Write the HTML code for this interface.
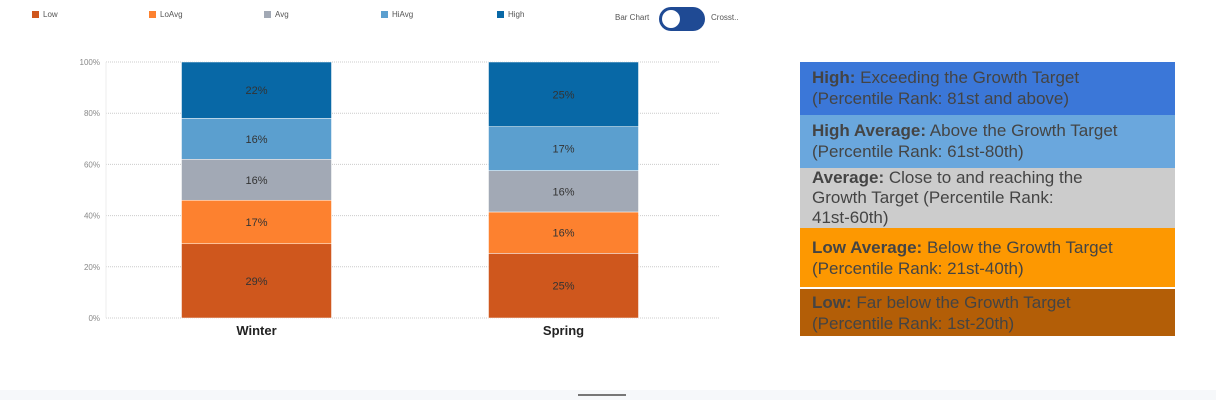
<!DOCTYPE html>
<html><head><meta charset="utf-8">
<style>
body{margin:0;width:1216px;height:400px;overflow:hidden;background:#fff;font-family:"Liberation Sans",sans-serif;position:relative}
.leg{position:absolute;top:10px;font-size:8px;color:#555;display:flex;align-items:center}
.leg i{display:inline-block;width:7px;height:7px;margin-right:4px}
.box{position:absolute;left:800px;width:363px;padding-left:12px;font-size:17px;color:#444;line-height:21px;box-sizing:content-box}
.box b{font-weight:bold}
</style></head><body>
<div class="leg" style="left:32px"><i style="background:#cf571d"></i>Low</div>
<div class="leg" style="left:149px"><i style="background:#fd812f"></i>LoAvg</div>
<div class="leg" style="left:264px"><i style="background:#a2a9b5"></i>Avg</div>
<div class="leg" style="left:381px"><i style="background:#5b9fcf"></i>HiAvg</div>
<div class="leg" style="left:497px"><i style="background:#0868a6"></i>High</div>
<div class="leg" style="left:615px;top:13px">Bar Chart</div>
<div style="position:absolute;left:659px;top:7px;width:46px;height:24px;border-radius:12px;background:#1f4a94"><div style="position:absolute;left:2px;top:2px;width:18px;height:18px;border-radius:50%;background:#fff;border:1px solid #1f4a94"></div></div>
<div class="leg" style="left:711px;top:13px">Crosst..</div>

<svg id="chart" width="780" height="360" style="position:absolute;left:0;top:0"></svg>

<div class="box" style="top:62px;height:53px;background:#3b77d8;padding-top:5px;height:48px"><b>High:</b> Exceeding the Growth Target<br>(Percentile Rank: 81st and above)</div>
<div class="box" style="top:115px;background:#6aa7dd;padding-top:5px;height:48px"><b>High Average:</b> Above the Growth Target<br>(Percentile Rank: 61st-80th)</div>
<div class="box" style="top:168px;background:#cccccc;padding-top:0;height:60px;line-height:20px"><b>Average:</b> Close to and reaching the<br>Growth Target (Percentile Rank:<br>41st-60th)</div>
<div class="box" style="top:228px;background:#fd9801;padding-top:9px;height:50px"><b>Low Average:</b> Below the Growth Target<br>(Percentile Rank: 21st-40th)</div>
<div class="box" style="top:289px;background:#b35e07;padding-top:3px;height:44px"><b>Low:</b> Far below the Growth Target<br>(Percentile Rank: 1st-20th)</div>

<div style="position:absolute;left:0;top:390px;width:1216px;height:10px;background:#f6f8fa"></div>
<div style="position:absolute;left:578px;top:394px;width:48px;height:2px;background:#777"></div>

<script>
const categories=["Winter","Spring"];
const seriesNames=["Low","LoAvg","Avg","HiAvg","High"];
const lowVals=[29,25];
const loAvgVals=[17,16];
const avgVals=[16,16];
const hiAvgVals=[16,17];
const highVals=[22,25];
const yTicks=[0,20,40,60,80,100];
const colors=["#cf571d","#fd812f","#a2a9b5","#5b9fcf","#0868a6"];
const series=[lowVals,loAvgVals,avgVals,hiAvgVals,highVals];
const svg=document.getElementById('chart');
const NS='http://www.w3.org/2000/svg';
const x0=106,x1=720,yTop=62,yBot=318,barW=150;
const y=v=>yBot-(v/100)*(yBot-yTop);
const xc=i=>x0+(x1-x0)*(i+0.5)/categories.length-3;
function mk(t,a){const e=document.createElementNS(NS,t);for(const k in a)e.setAttribute(k,a[k]);svg.appendChild(e);return e;}
yTicks.forEach(t=>{
 const l=mk('line',{x1:x0,x2:x1,y1:y(t),y2:y(t),stroke:'#ccc','stroke-dasharray':'1,1','stroke-width':1});
 
 
 const tx=mk('text',{x:100,y:y(t)+3,'text-anchor':'end','font-size':8,fill:'#888','font-family':'Liberation Sans'});
 tx.textContent=t+'%';
 
 
});
const ax=mk('line',{x1:x0,x2:x0,y1:yTop,y2:yBot,stroke:'#eee'});


categories.forEach((c,i)=>{
 const tot=series.reduce((s,a)=>s+a[i],0);
 let cum=0;
 series.forEach((arr,j)=>{
  const v=arr[i];
  const a=cum/tot*100,b=(cum+v)/tot*100;cum+=v;
  const r=mk('rect',{x:xc(i)-barW/2,y:y(b),width:barW,height:y(a)-y(b),fill:colors[j],stroke:'#fff','stroke-width':0.5});
  
  
  const t=mk('text',{x:xc(i),y:(y(a)+y(b))/2+4,'text-anchor':'middle','font-size':11,fill:'#333','font-family':'Liberation Sans'});
  t.textContent=v+'%';
  
  
 });
 const lb=mk('text',{x:xc(i),y:335,'text-anchor':'middle','font-size':13,'font-weight':'bold',fill:'#222','font-family':'Liberation Sans'});
 lb.textContent=c;
 
 
});
</script>
</body></html>
